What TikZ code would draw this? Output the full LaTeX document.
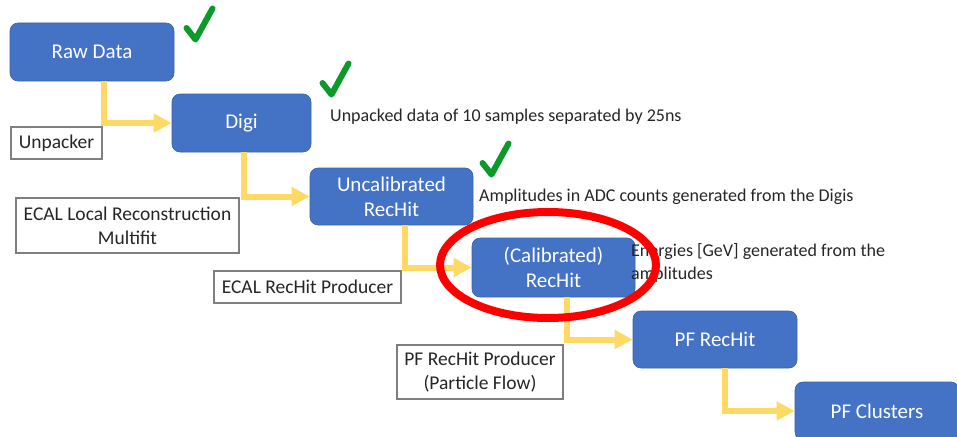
\documentclass[tikz,border=0pt]{standalone}
\usepackage{fontspec}
\setmainfont{Carlito}
\usetikzlibrary{arrows.meta,shapes.geometric}

\definecolor{stepblue}{HTML}{4472C4}
\definecolor{flowgold}{HTML}{FFD966}
\definecolor{tickgreen}{HTML}{0A9A2A}
\definecolor{labelgray}{HTML}{7F7F7F}
\definecolor{txtdark}{HTML}{262626}

\tikzset{
	stage/.style={rectangle, rounded corners=8pt, fill=stepblue, draw=stepblue!85!black,
		line width=0.6pt, text=white, align=center, inner sep=0pt,
		font=\fontsize{21}{25}\selectfont},
	tool/.style={rectangle, draw=labelgray, line width=1.4pt, fill=white, text=txtdark,
		align=center, inner sep=0pt, font=\fontsize{19.5}{24}\selectfont},
	note/.style={anchor=west, text=txtdark, align=left, inner sep=0pt,
		font=\fontsize{18}{23}\selectfont},
	flow/.style={draw=flowgold, line width=6pt, -{Triangle[length=18pt,width=18pt]}},
	done/.pic={
		\draw[tickgreen, line width=6pt, line cap=round, line join=round]
			(3.5,23) -- (12.5,34.5) -- (29.5,3.5);
	}
}

\begin{document}
\begin{tikzpicture}[x=1pt,y=-1pt]
	\useasboundingbox (0,0) rectangle (957,436);
	% processing stages
	\node[stage, minimum width=164pt, minimum height=58pt] (raw) at (92,52) {Raw Data};
	\node[stage, minimum width=139pt, minimum height=58pt] (digi) at (241.5,123) {Digi};
	\node[stage, minimum width=163pt, minimum height=57pt] (uncal) at (391.5,196.5) {Uncalibrated\\RecHit};
	\node[stage, minimum width=163pt, minimum height=59pt] (cal) at (553.5,267.5) {(Calibrated)\\RecHit};
	\node[stage, minimum width=164pt, minimum height=57pt] (pfhit) at (715,339.5) {PF RecHit};
	\node[stage, minimum width=164pt, minimum height=58pt] (pfclu) at (877,411) {PF Clusters};
	% producers
	\node[tool, minimum width=91pt, minimum height=32pt] (unpack) at (56.5,143) {Unpacker};
	\node[tool, minimum width=223pt, minimum height=55pt] (multifit) at (127.5,225.5) {ECAL Local Reconstruction\\Multifit};
	\node[tool, minimum width=187pt, minimum height=32pt] (ecalprod) at (307.5,287) {ECAL RecHit Producer};
	\node[tool, minimum width=166pt, minimum height=54pt] (pfprod) at (480,372) {PF RecHit Producer\\(Particle Flow)};
	% arrows
	\draw[flow] ([xshift=12pt]raw.south) |- (digi.west);
	\draw[flow] ([xshift=2pt]digi.south) |- (uncal.west);
	\draw[flow] ([xshift=13pt]uncal.south) |- (cal.west);
	\draw[flow] ([xshift=13pt]cal.south) |- (pfhit.west);
	\draw[flow] ([xshift=10pt]pfhit.south) |- (pfclu.west);
	% descriptions
	\node[note] (ndigi) at (330,117) {Unpacked data of 10 samples separated by 25ns};
	\node[note] (nuncal) at (479,197) {Amplitudes in ADC counts generated from the Digis};
	\node[note] (ncal) at (631,262.5) {Energies [GeV] generated from the\\amplitudes};
	% done marks
	\pic at (183,5) {done};
	\pic at (319,60) {done};
	\pic at (479,140) {done};
	% highlight
	\node[ellipse, draw=red, line width=8pt, minimum width=216pt, minimum height=106pt, inner sep=0pt] (ring) at (548,265) {};
\end{tikzpicture}
\end{document}
